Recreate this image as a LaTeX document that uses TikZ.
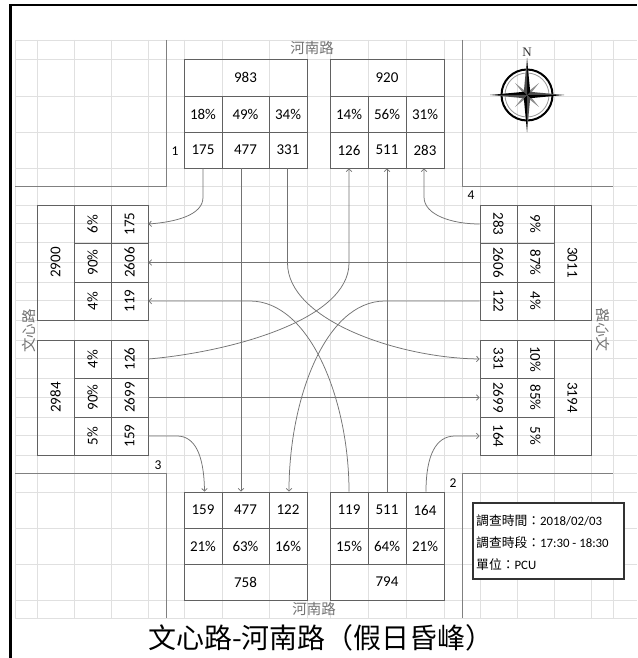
\documentclass[tikz,border=0pt]{standalone}
\usepackage{fontspec}
\usepackage{graphicx}
\setmainfont{Carlito}
\newfontfamily\cjk{Noto Sans CJK TC}
\newfontfamily\nfont{Liberation Serif}
\usetikzlibrary{arrows.meta}
\tikzset{
  gridln/.style={draw=black!12, line width=0.6pt},
  road/.style={draw=black!50, line width=0.9pt},
  cell/.style={draw=black!62, line width=0.8pt, inner sep=0pt, text=black,
    font=\fontsize{15}{16}\selectfont},
  flow/.style={draw=black!55, line width=0.75pt, -{Straight Barb[length=2.6pt,width=5.5pt]}},
  lbl/.style={inner sep=0pt, text=black, font=\fontsize{13.5}{14}\selectfont},
  rname/.style={inner sep=0pt, text=black!55, font=\cjk\fontsize{14.5}{16}\selectfont},
  infot/.style={inner sep=0pt, anchor=west, text=black, font=\fontsize{12.8}{14}\selectfont},
}
\begin{document}
\begin{tikzpicture}[x=1pt,y=-1pt]
\useasboundingbox (0,0) rectangle (637,658);
\fill[white] (0,0) rectangle (637,658);
% grid
\foreach \x in {15,37,74,111,148,166,184,222,269,307,330,368,406,444,462,480,517,554,591,613}
  \draw[gridln] (\x,40) -- (\x,618);
\foreach \y in {40,59,96,132,168,186,205,223,242,262,282,300,320,340,358,378,397,417,435,455,473,492,528,564,600,618}
  \draw[gridln] (15,\y) -- (637,\y);
% frame
\draw[black, line width=2.4pt] (10.5,658) -- (10.5,5) -- (637,5);
% road edges
\draw[road] (15,186) -- (166,186) -- (166,40);
\draw[road] (462,40) -- (462,186) -- (613,186);
\draw[road] (15,473) -- (166,473) -- (166,618);
\draw[road] (462,618) -- (462,473) -- (613,473);
% road names
\node[rname] (rn1) at (312,48) {河南路};
\node[rname] (rn2) at (314,609) {河南路};
\node[rname, rotate=90] (rw1) at (29,331) {文心路};
\node[rname, rotate=-90] (rw2) at (603,330) {\reflectbox{文心路}};
% corner numbers
\node[lbl] (k1) at (175,151) {1};
\node[lbl] (k4) at (471,195) {4};
\node[lbl] (k3) at (158,465) {3};
\node[lbl] (k2) at (453,483) {2};
% box A (983)
\node[cell, minimum width=123pt, minimum height=37pt] (atot) at (245.5,77.5) {983};
\node[cell, minimum width=38pt, minimum height=36pt] (ap1) at (203,114) {18\%};
\node[cell, minimum width=47pt, minimum height=36pt] (ap2) at (245.5,114) {49\%};
\node[cell, minimum width=38pt, minimum height=36pt] (ap3) at (288,114) {34\%};
\node[cell, minimum width=38pt, minimum height=36pt] (av1) at (203,150) {175};
\node[cell, minimum width=47pt, minimum height=36pt] (av2) at (245.5,150) {477};
\node[cell, minimum width=38pt, minimum height=36pt] (av3) at (288,150) {331};
% box B (920)
\node[cell, minimum width=114pt, minimum height=37pt] (btot) at (387,77.5) {920};
\node[cell, minimum width=38pt, minimum height=36pt] (bp1) at (349,114) {14\%};
\node[cell, minimum width=38pt, minimum height=36pt] (bp2) at (387,114) {56\%};
\node[cell, minimum width=38pt, minimum height=36pt] (bp3) at (425,114) {31\%};
\node[cell, minimum width=38pt, minimum height=36pt] (bv1) at (349,150) {126};
\node[cell, minimum width=38pt, minimum height=36pt] (bv2) at (387,150) {511};
\node[cell, minimum width=38pt, minimum height=36pt] (bv3) at (425,150) {283};
% box C (2900)
\node[cell, minimum width=37pt, minimum height=115pt] (ctot) at (55.5,262.5) {\rotatebox{90}{2900}};
\node[cell, minimum width=37pt, minimum height=38pt] (cp1) at (92.5,224) {\rotatebox{90}{6\%}};
\node[cell, minimum width=37pt, minimum height=39pt] (cp2) at (92.5,262.5) {\rotatebox{90}{90\%}};
\node[cell, minimum width=37pt, minimum height=38pt] (cp3) at (92.5,301) {\rotatebox{90}{4\%}};
\node[cell, minimum width=37pt, minimum height=38pt] (cv1) at (129.5,224) {\rotatebox{90}{175}};
\node[cell, minimum width=37pt, minimum height=39pt] (cv2) at (129.5,262.5) {\rotatebox{90}{2606}};
\node[cell, minimum width=37pt, minimum height=38pt] (cv3) at (129.5,301) {\rotatebox{90}{119}};
% box D (2984)
\node[cell, minimum width=37pt, minimum height=115pt] (dtot) at (55.5,397.5) {\rotatebox{90}{2984}};
\node[cell, minimum width=37pt, minimum height=38pt] (dp1) at (92.5,359) {\rotatebox{90}{4\%}};
\node[cell, minimum width=37pt, minimum height=39pt] (dp2) at (92.5,397.5) {\rotatebox{90}{90\%}};
\node[cell, minimum width=37pt, minimum height=38pt] (dp3) at (92.5,436) {\rotatebox{90}{5\%}};
\node[cell, minimum width=37pt, minimum height=38pt] (dv1) at (129.5,359) {\rotatebox{90}{126}};
\node[cell, minimum width=37pt, minimum height=39pt] (dv2) at (129.5,397.5) {\rotatebox{90}{2699}};
\node[cell, minimum width=37pt, minimum height=38pt] (dv3) at (129.5,436) {\rotatebox{90}{159}};
% box E (3011)
\node[cell, minimum width=37pt, minimum height=115pt] (etot) at (572.5,262.5) {\rotatebox{-90}{3011}};
\node[cell, minimum width=37pt, minimum height=38pt] (ep1) at (535.5,224) {\rotatebox{-90}{9\%}};
\node[cell, minimum width=37pt, minimum height=39pt] (ep2) at (535.5,262.5) {\rotatebox{-90}{87\%}};
\node[cell, minimum width=37pt, minimum height=38pt] (ep3) at (535.5,301) {\rotatebox{-90}{4\%}};
\node[cell, minimum width=37pt, minimum height=38pt] (ev1) at (498.5,224) {\rotatebox{-90}{283}};
\node[cell, minimum width=37pt, minimum height=39pt] (ev2) at (498.5,262.5) {\rotatebox{-90}{2606}};
\node[cell, minimum width=37pt, minimum height=38pt] (ev3) at (498.5,301) {\rotatebox{-90}{122}};
% box F (3194)
\node[cell, minimum width=37pt, minimum height=115pt] (ftot) at (572.5,397.5) {\rotatebox{-90}{3194}};
\node[cell, minimum width=37pt, minimum height=38pt] (fp1) at (535.5,359) {\rotatebox{-90}{10\%}};
\node[cell, minimum width=37pt, minimum height=39pt] (fp2) at (535.5,397.5) {\rotatebox{-90}{85\%}};
\node[cell, minimum width=37pt, minimum height=38pt] (fp3) at (535.5,436) {\rotatebox{-90}{5\%}};
\node[cell, minimum width=37pt, minimum height=38pt] (fv1) at (498.5,359) {\rotatebox{-90}{331}};
\node[cell, minimum width=37pt, minimum height=39pt] (fv2) at (498.5,397.5) {\rotatebox{-90}{2699}};
\node[cell, minimum width=37pt, minimum height=38pt] (fv3) at (498.5,436) {\rotatebox{-90}{164}};
% box G (758)
\node[cell, minimum width=38pt, minimum height=36pt] (gv1) at (203,510) {159};
\node[cell, minimum width=47pt, minimum height=36pt] (gv2) at (245.5,510) {477};
\node[cell, minimum width=38pt, minimum height=36pt] (gv3) at (288,510) {122};
\node[cell, minimum width=38pt, minimum height=36pt] (gp1) at (203,546) {21\%};
\node[cell, minimum width=47pt, minimum height=36pt] (gp2) at (245.5,546) {63\%};
\node[cell, minimum width=38pt, minimum height=36pt] (gp3) at (288,546) {16\%};
\node[cell, minimum width=123pt, minimum height=36pt] (gtot) at (245.5,582) {758};
% box H (794)
\node[cell, minimum width=38pt, minimum height=36pt] (hv1) at (349,510) {119};
\node[cell, minimum width=38pt, minimum height=36pt] (hv2) at (387,510) {511};
\node[cell, minimum width=38pt, minimum height=36pt] (hv3) at (425,510) {164};
\node[cell, minimum width=38pt, minimum height=36pt] (hp1) at (349,546) {15\%};
\node[cell, minimum width=38pt, minimum height=36pt] (hp2) at (387,546) {64\%};
\node[cell, minimum width=38pt, minimum height=36pt] (hp3) at (425,546) {21\%};
\node[cell, minimum width=114pt, minimum height=36pt] (htot) at (387,582) {794};
% flows
\draw[flow] (av1.south) -- ([yshift=-29pt]av1.south) .. controls (203,215) and (176,222) .. (cv1.east);
\draw[flow] ([xshift=-4.5pt]av2.south) -- ([xshift=-4.5pt]gv2.north);
\draw[flow] ([xshift=-0.5pt]av3.south) -- (287.5,263) .. controls (287.5,320) and (398,358) .. (fv1.west);
\draw[flow] (dv1.east) .. controls (230,352) and (349,320) .. (349,263) -- (bv1.south);
\draw[flow] (hv2.north) -- (bv2.south);
\draw[flow] (ev1.west) .. controls (452,224) and (424,215) .. (424,197) -- ([xshift=-1pt]bv3.south);
\draw[flow] (ev2.west) -- (cv2.east);
\draw[flow] (hv1.north) .. controls (349,400) and (310,301) .. (250,301) -- (cv3.east);
\draw[flow] (ev3.west) -- (385,301) .. controls (325,301) and (289,400) .. ([xshift=1pt]gv3.north);
\draw[flow] (dv2.east) -- (fv2.west);
\draw[flow] (dv3.east) -- (177,436) .. controls (195,436) and (204,455) .. ([xshift=1.5pt]gv1.north);
\draw[flow] ([xshift=1pt]hv3.north) .. controls (426,455) and (436,436) .. (455,436) -- (fv3.west);
% compass
\node[inner sep=0pt, font=\nfont\fontsize{13}{14}\selectfont, text=black!80] (nn) at (527,52) {N};
\begin{scope}[shift={(527,95)}]
  \draw[black!40, line width=0.8pt] (0,0) circle (22pt);
  \draw[black, line width=2pt] (0,0) circle (25.5pt);
  \foreach \a in {45,135,225,315} {
    \fill[black!45] (0,0) -- (\a+22:4) -- (\a:17) -- (\a-22:4) -- cycle;
  }
  \foreach \a in {0,90,180,270} {
    \fill[black] (0,0) -- (\a+45:4.5) -- (\a:37) -- cycle;
    \fill[black!70] (0,0) -- (\a-45:4.5) -- (\a:37) -- cycle;
  }
\end{scope}
% info box
\node[draw=black!80, line width=1.6pt, fill=white, minimum width=151pt, minimum height=76pt, inner sep=0pt] (info) at (548.5,541) {};
\node[infot] (i1) at (476,521) {{\cjk 調查時間：}2018/02/03};
\node[infot] (i2) at (476,543) {{\cjk 調查時段：}17:30 - 18:30};
\node[infot] (i3) at (476,565) {{\cjk 單位：}PCU};
% title
\node[inner sep=0pt, anchor=base, font=\cjk\fontsize{28}{30}\selectfont] (ttl) at (321,648.5) {文心路-河南路（假日昏峰）};
\end{tikzpicture}
\end{document}
